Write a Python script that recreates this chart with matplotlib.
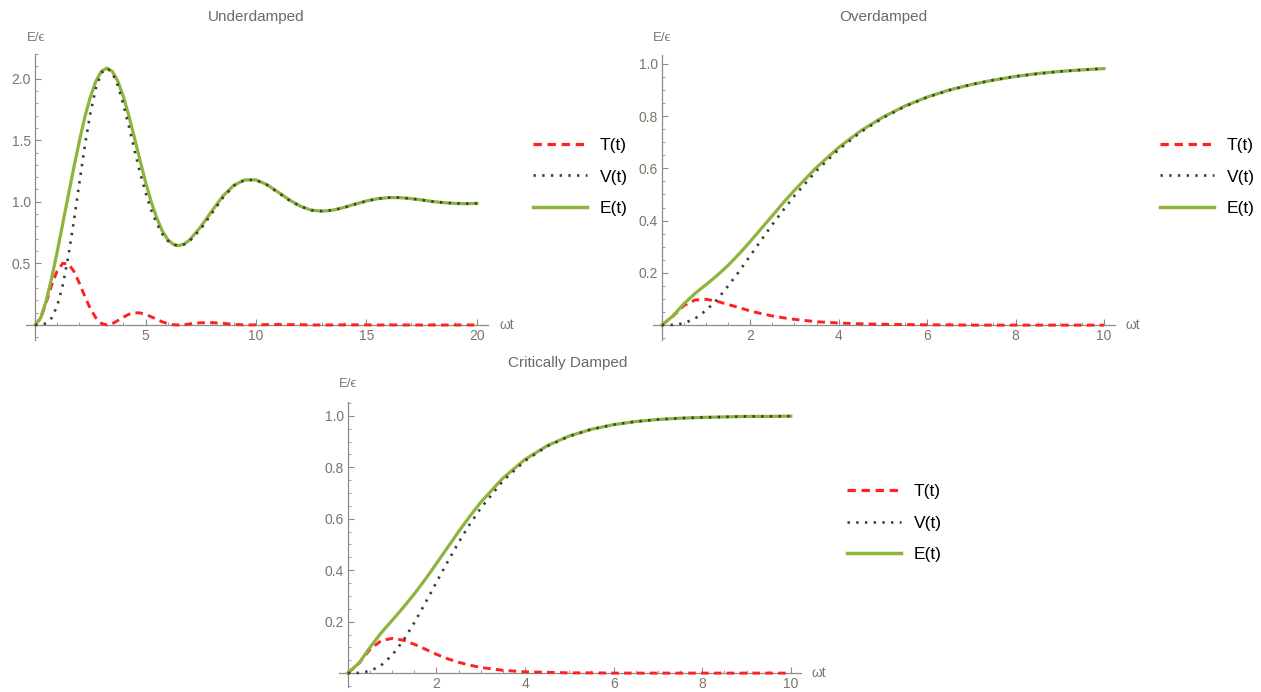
"""Energy of a damped oscillator driven from rest: T, V and E for three damping cases."""

import matplotlib.pyplot as plt
from matplotlib.ticker import MultipleLocator, FixedLocator, FormatStrFormatter
from matplotlib.lines import Line2D

plt.rcParams['font.family'] = ['Liberation Sans', 'DejaVu Sans']

# ---- Underdamped ----
t_under = [0, 0.25, 0.5, 0.75, 1, 1.25, 1.5, 1.75, 2, 2.25, 2.5, 2.75, 3, 3.25, 3.5,
           3.75, 4, 4.25, 4.5, 4.75, 5, 5.25, 5.5, 5.75, 6, 6.25, 6.5, 6.75, 7,
           7.5, 8, 8.5, 9, 9.5, 10, 10.5, 11, 11.5, 12, 12.5, 13, 13.5, 14, 14.5,
           15, 15.5, 16, 16.5, 17, 17.5, 18, 18.5, 19, 19.5, 20]
T_under = [0, 0.054, 0.180, 0.323, 0.438, 0.500, 0.497, 0.438, 0.342, 0.233, 0.133,
           0.058, 0.013, 0.000, 0.011, 0.036, 0.064, 0.087, 0.099, 0.098, 0.086,
           0.067, 0.046, 0.026, 0.011, 0.002, 0.000, 0.002, 0.008,
           0.018, 0.019, 0.013, 0.005, 0.000, 0.001, 0.003, 0.004, 0.003, 0.002,
           0.000, 0.000, 0.000, 0.001, 0.001, 0.001, 0.000, 0, 0, 0, 0, 0, 0, 0, 0, 0]
V_under = [0, 0.001, 0.013, 0.057, 0.154, 0.320, 0.551, 0.836, 1.146, 1.453, 1.717,
           1.921, 2.046, 2.086, 2.047, 1.942, 1.788, 1.610, 1.419, 1.238, 1.075,
           0.936, 0.827, 0.741, 0.684, 0.652, 0.644, 0.654, 0.683,
           0.779, 0.906, 1.033, 1.130, 1.178, 1.177, 1.136, 1.075, 1.013, 0.963,
           0.932, 0.924, 0.933, 0.954, 0.981, 1.006, 1.025, 1.034, 1.034, 1.026,
           1.015, 1.002, 0.993, 0.987, 0.985, 0.987]
E_under = [0, 0.055, 0.193, 0.380, 0.592, 0.821, 1.048, 1.274, 1.488, 1.686, 1.850,
           1.978, 2.059, 2.086, 2.058, 1.978, 1.852, 1.696, 1.518, 1.336, 1.161,
           1.003, 0.873, 0.766, 0.695, 0.655, 0.644, 0.657, 0.691,
           0.797, 0.925, 1.046, 1.135, 1.178, 1.178, 1.139, 1.079, 1.016, 0.965,
           0.932, 0.924, 0.933, 0.955, 0.982, 1.007, 1.025, 1.034, 1.034, 1.026,
           1.015, 1.002, 0.993, 0.987, 0.985, 0.987]

# ---- Overdamped ----
t_over = [0, 0.25, 0.5, 0.75, 1, 1.25, 1.5, 1.75, 2, 2.25, 2.5, 2.75, 3, 3.5, 4,
          4.5, 5, 5.5, 6, 6.5, 7, 7.5, 8, 8.5, 9, 9.5, 10]
T_over = [0, 0.034, 0.075, 0.096, 0.099, 0.091, 0.079, 0.067, 0.054, 0.044, 0.035,
          0.028, 0.022, 0.013, 0.008, 0.005, 0.003, 0.002, 0.001, 0.001, 0.000,
          0.000, 0.000, 0.000, 0.000, 0.000, 0.000]
V_over = [0, 0.001, 0.007, 0.025, 0.056, 0.098, 0.150, 0.206, 0.266, 0.326, 0.385,
          0.441, 0.495, 0.591, 0.672, 0.739, 0.793, 0.837, 0.872, 0.899, 0.921,
          0.938, 0.952, 0.962, 0.971, 0.977, 0.982]
E_over = [0, 0.035, 0.082, 0.121, 0.155, 0.190, 0.229, 0.273, 0.320, 0.370, 0.419,
          0.469, 0.516, 0.604, 0.680, 0.744, 0.796, 0.839, 0.873, 0.900, 0.921,
          0.938, 0.952, 0.963, 0.971, 0.977, 0.982]

# ---- Critically damped ----
t_crit = [0, 0.25, 0.5, 0.75, 1, 1.25, 1.5, 1.75, 2, 2.25, 2.5, 2.75, 3, 3.5, 4,
          4.5, 5, 5.5, 6, 6.5, 7, 7.5, 8, 8.5, 9, 9.5, 10]
T_crit = [0, 0.038, 0.092, 0.126, 0.135, 0.128, 0.112, 0.093, 0.073, 0.056, 0.042,
          0.031, 0.022, 0.011, 0.005, 0.003, 0.001, 0.001, 0.000, 0.000, 0.000,
          0.000, 0.000, 0.000, 0.000, 0.000, 0.000]
V_crit = [0, 0.001, 0.008, 0.030, 0.070, 0.126, 0.196, 0.273, 0.353, 0.432, 0.508,
          0.578, 0.641, 0.747, 0.825, 0.882, 0.921, 0.948, 0.966, 0.978, 0.986,
          0.991, 0.994, 0.996, 0.998, 0.998, 0.999]
E_crit = [0, 0.039, 0.100, 0.156, 0.205, 0.255, 0.308, 0.365, 0.426, 0.488, 0.550,
          0.609, 0.664, 0.758, 0.831, 0.884, 0.922, 0.948, 0.966, 0.978, 0.986,
          0.991, 0.994, 0.996, 0.998, 0.998, 0.999]

legend_labels = ['T(t)', 'V(t)', 'E(t)']

RED = '#ff2020'
DOT = '#3a3a3a'
GREEN = '#8db43c'
AXIS = '#8c8c8c'
LABEL = '#7d746c'

DASH = (0, (2.6, 1.8))
DOTS = (0, (0.9, 2.4))

fig = plt.figure(figsize=(12.61, 6.92), dpi=100)
W, H = 1261, 692


def px_axes(left, top, right, bottom):
    return fig.add_axes([left / W, 1 - bottom / H, (right - left) / W, (bottom - top) / H])


def style(ax, xlim, ylim, xmaj, xmin, ymaj, ymin):
    ax.set_xlim(*xlim)
    ax.set_ylim(*ylim)
    for s in ('top', 'right'):
        ax.spines[s].set_visible(False)
    for s in ('left', 'bottom'):
        ax.spines[s].set_position(('data', 0))
        ax.spines[s].set_color(AXIS)
        ax.spines[s].set_linewidth(0.9)
    ax.xaxis.set_major_locator(FixedLocator(xmaj))
    ax.yaxis.set_major_locator(FixedLocator(ymaj))
    ax.xaxis.set_minor_locator(MultipleLocator(xmin))
    ax.yaxis.set_minor_locator(MultipleLocator(ymin))
    ax.yaxis.set_major_formatter(FormatStrFormatter('%.1f'))
    ax.tick_params(which='major', direction='in', length=4.5, width=0.8, color=AXIS,
                   labelsize=10, labelcolor=LABEL, pad=3)
    ax.tick_params(which='minor', direction='in', length=2.5, width=0.6, color=AXIS)
    ax.patch.set_visible(False)


def draw(ax, t, T, V, E):
    ax.plot(t, T, color=RED, lw=2.1, ls=DASH, zorder=3, clip_on=False)
    ax.plot(t, E, color=GREEN, lw=2.3, zorder=4, clip_on=False)
    ax.plot(t, V, color=DOT, lw=1.9, ls=DOTS, dash_capstyle='butt', zorder=5, clip_on=False)


def legend(x, y):
    handles = [Line2D([], [], color=RED, lw=2.3, ls=DASH),
               Line2D([], [], color=DOT, lw=1.9, ls=DOTS, dash_capstyle='butt'),
               Line2D([], [], color=GREEN, lw=2.5)]
    fig.legend(handles, legend_labels, loc='center left', bbox_to_anchor=(x / W, 1 - y / H),
               frameon=False, fontsize=12.5, handlelength=3.1, handletextpad=0.75,
               labelspacing=0.95, borderpad=0, borderaxespad=0)


# Underdamped
ax1 = px_axes(26, 54, 488, 340)
draw(ax1, t_under, T_under, V_under, E_under)
style(ax1, (-0.41, 20.5), (-0.122, 2.20), [5, 10, 15, 20], 1, [0.5, 1.0, 1.5, 2.0], 0.1)

# Overdamped
ax2 = px_axes(653, 55, 1115, 340)
draw(ax2, t_over, T_over, V_over, E_over)
style(ax2, (-0.2, 10.25), (-0.057, 1.034), [2, 4, 6, 8, 10], 0.5,
      [0.2, 0.4, 0.6, 0.8, 1.0], 0.05)

# Critically damped
ax3 = px_axes(339, 402, 801, 687)
draw(ax3, t_crit, T_crit, V_crit, E_crit)
style(ax3, (-0.2, 10.23), (-0.054, 1.054), [2, 4, 6, 8, 10], 0.5,
      [0.2, 0.4, 0.6, 0.8, 1.0], 0.05)

# titles, axis labels
for x, y, s in [(256, 17, 'Underdamped'), (883, 17, 'Overdamped'), (568, 363, 'Critically Damped')]:
    fig.text(x / W, 1 - y / H, s, ha='center', va='center', fontsize=11, color='#6a6a6a')
for x, y in [(36, 38), (662, 38), (348, 384)]:
    fig.text(x / W, 1 - y / H, 'E/ϵ', ha='center', va='center', fontsize=9.5, color=LABEL)
for x, y in [(500, 325), (1125, 325), (812, 673)]:
    fig.text(x / W, 1 - y / H, 'ωt', ha='left', va='center', fontsize=10, color=LABEL)

legend(533, 177)
legend(1160, 177)
legend(847, 523)

fig.savefig('out.png', dpi=100)
